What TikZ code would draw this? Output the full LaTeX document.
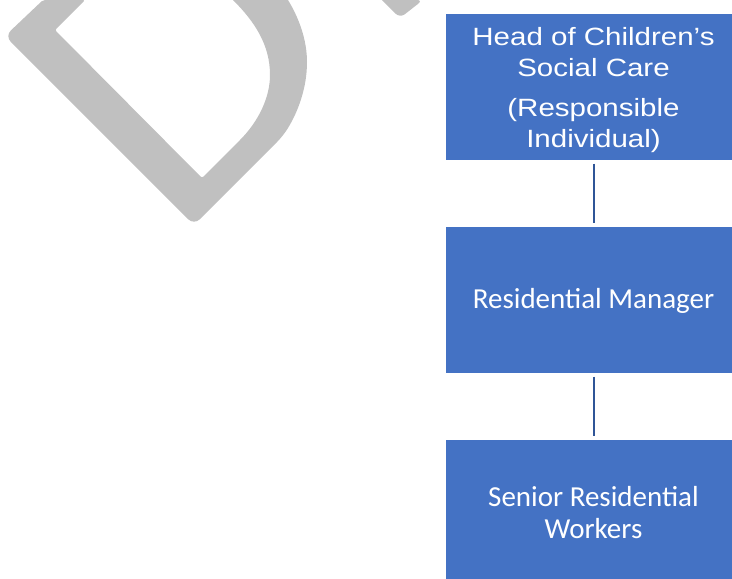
\documentclass[tikz,border=0pt]{standalone}
\usepackage{fontspec}
\setmainfont{Liberation Sans}
\newfontfamily\calibrifont{Carlito}
\definecolor{boxblue}{RGB}{68,114,196}
\definecolor{linkblue}{RGB}{47,85,151}
\definecolor{wmgrey}{RGB}{192,192,192}
\begin{document}
\begin{tikzpicture}[x=1pt,y=-1pt,
  orgbox/.style={rectangle, fill=boxblue, draw=white, line width=1pt,
    minimum width=297pt, minimum height=147pt, inner sep=0pt},
  boxtext/.style={text=white, inner sep=0pt, anchor=base},
  link/.style={draw=linkblue, line width=2pt, shorten <=3pt, shorten >=3pt}]
\useasboundingbox (0,0) rectangle (732,579);
% watermark fragments
\fill[wmgrey, rounded corners=8pt] (43,0) -- (5,36) -- (194,225) -- (283,136) [sharp corners]
  .. controls (298,112) and (307,88) .. (307,62)
  .. controls (307,40) and (299,18) .. (288,0)
  -- (233,0)
  .. controls (255,22) and (270,45) .. (270,75)
  .. controls (270,98) and (258,122) .. (240,140)
  [rounded corners=2pt] -- (202,178) -- (55,30) -- (85,0) -- cycle;
\fill[wmgrey, rounded corners=6pt] (382,0) -- (400,18) -- (423,0) [sharp corners] -- cycle;
% boxes
\node[orgbox] (head) at (593.5,86.5) {};
\node[orgbox] (manager) at (593.5,299.5) {};
\node[orgbox] (senior) at (593.5,512.5) {};
% texts
\node[boxtext, font=\fontsize{25}{31}\selectfont] (headtext) at (593.5,45.5)
  {\scalebox{1.18}[1]{\begin{tabular}[t]{@{}c@{}}Head of Children’s\\Social Care\\[9pt](Responsible\\Individual)\end{tabular}}};
\node[boxtext, font=\calibrifont\fontsize{29}{31.6}\selectfont] (managertext) at (593.5,308.3)
  {Residential Manager};
\node[boxtext, font=\calibrifont\fontsize{29}{31.6}\selectfont] (seniortext) at (593.5,506.7)
  {\begin{tabular}[t]{@{}c@{}}Senior Residential\\Workers\end{tabular}};
\draw[link] (head.south) -- (manager.north);
\draw[link] (manager.south) -- (senior.north);
\end{tikzpicture}
\end{document}
